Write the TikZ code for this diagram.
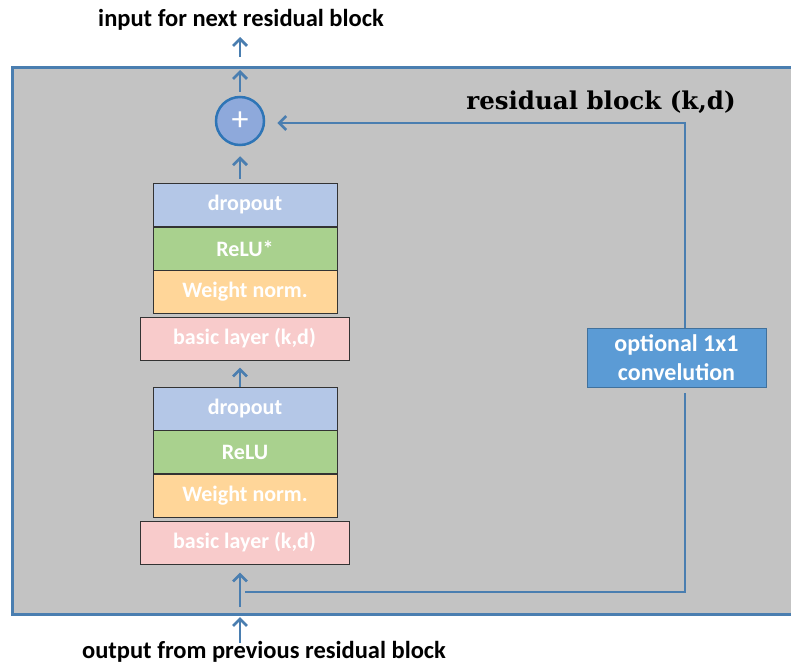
\documentclass[tikz,border=0pt]{standalone}
\usepackage{fontspec}
\setmainfont{Carlito}
\newfontfamily\headfont{DejaVu Serif}
\usepackage{xcolor}
\usepackage{tikz}
\usetikzlibrary{positioning,arrows.meta,calc}
\definecolor{mGrayBg}{HTML}{C3C3C3}
\definecolor{mSteel}{HTML}{4A7EB0}
\definecolor{mSumFill}{HTML}{8EA9DB}
\definecolor{mSumLine}{HTML}{2E75B6}
\definecolor{mDrop}{HTML}{B4C7E7}
\definecolor{mRelu}{HTML}{A9D18E}
\definecolor{mNorm}{HTML}{FFD699}
\definecolor{mBasic}{HTML}{F8CBCB}
\definecolor{mOpt}{HTML}{5B9BD5}
\definecolor{mOptLine}{HTML}{41719C}

\begin{document}
\begin{tikzpicture}[x=1pt, y=-1pt, font=\fontsize{22}{26}\selectfont\bfseries,
  layerbox/.style={draw=black!80, line width=1pt, text=white, minimum width=184pt, minimum height=43pt, inner sep=0pt},
  basicbox/.style={layerbox, fill=mBasic, minimum width=209pt},
  flow/.style={draw=mSteel, line width=2.8pt},
  arr/.style={flow, -{Straight Barb[length=7pt, width=14pt]}}]
\useasboundingbox (0,0) rectangle (791,664);
\draw[fill=mGrayBg, draw=mSteel, line width=3pt] (12,67) rectangle (810,614);
\node[font=\fontsize{24.5}{28}\selectfont\bfseries] (outtext) at (241,20) {input for next residual block};
\node[font=\fontsize{24.5}{28}\selectfont\bfseries] (intext) at (264,652) {output from previous residual block};
\node[font=\headfont\fontsize{24.5}{28}\selectfont\bfseries] (title) at (601,102) {residual block (k,d)};
\node[circle, draw=mSumLine, fill=mSumFill, line width=2.5pt, minimum size=48pt, inner sep=0pt, text=white, font=\fontsize{34}{34}\selectfont] (sum) at (240,121) {+};
\node[layerbox, fill=mDrop] (drop1) at (245,204.5) {dropout};
\node[layerbox, fill=mRelu] (relu1) at (245,248.5) {ReLU*};
\node[layerbox, fill=mNorm] (norm1) at (245,292) {Weight norm.};
\node[basicbox] (basic1) at (244.5,338.5) {basic layer (k,d)};
\node[layerbox, fill=mDrop] (drop2) at (245,408.5) {dropout};
\node[layerbox, fill=mRelu] (relu2) at (245,452) {ReLU};
\node[layerbox, fill=mNorm] (norm2) at (245,496) {Weight norm.};
\node[basicbox] (basic2) at (244.5,542.5) {basic layer (k,d)};
\node[draw=mOptLine, line width=1pt, fill=mOpt, text=white, minimum width=179pt, minimum height=59pt, align=center, inner sep=0pt, font=\fontsize{24}{29}\selectfont\bfseries] (opt) at (676.5,357.5) {optional 1x1\\convelution};
\coordinate (boxtop) at (240,70);
\coordinate (abovebox) at (240,57);
\coordinate (belowbox) at (240,643);
\coordinate (inbottom) at (240,607);
\coordinate (split) at (245,592);
\coordinate (rcorner) at (685,592);
\coordinate (tcorner) at (685,123);
\draw[arr, shorten <=4pt] (sum.north) -- (boxtop);
\draw[arr] (abovebox) -- (240,37);
\draw[arr, shorten <=4pt, shorten >=10pt] (drop1.north -| sum) -- (sum.south);
\draw[arr, shorten >=7pt] (drop2.north -| sum) -- (basic1.south -| sum);
\draw[arr, shorten >=8pt] (inbottom) -- (basic2.south -| inbottom);
\draw[arr, shorten >=3pt] (belowbox) -- (belowbox |- 614,614);
\draw[flow, shorten >=5pt] (split) -- (rcorner) -- (rcorner |- opt.south);
\draw[arr, shorten >=12pt] (opt.north -| tcorner) -- (tcorner) -- (sum.east |- tcorner);
\end{tikzpicture}
\end{document}
